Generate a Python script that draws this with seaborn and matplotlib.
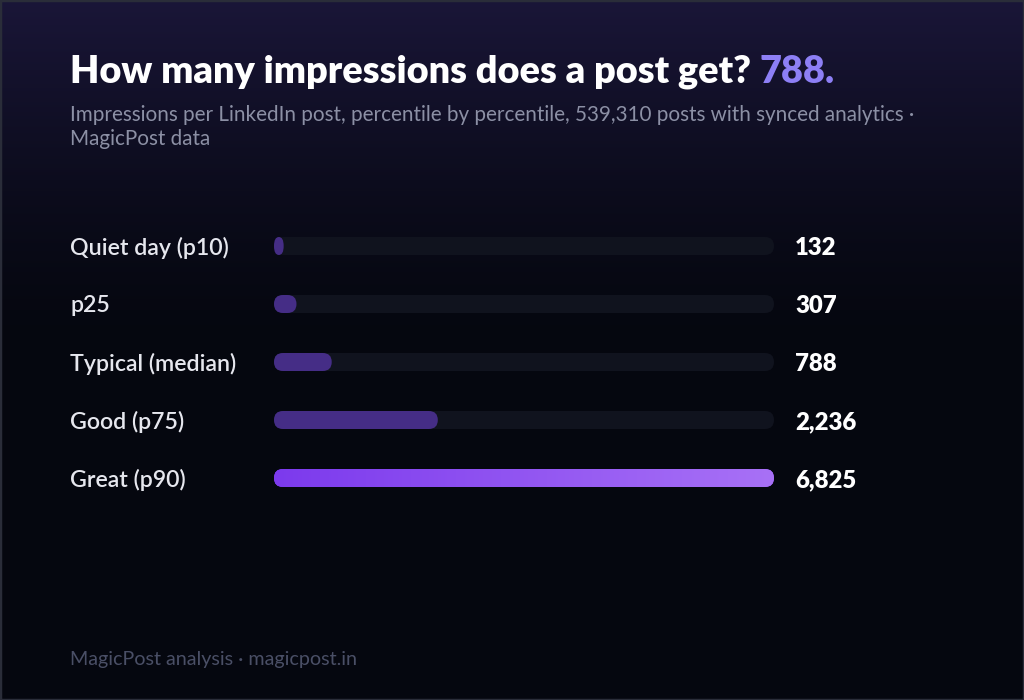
import numpy as np
import pandas as pd
import matplotlib
matplotlib.use("Agg")
from matplotlib import pyplot as plt
from matplotlib.patches import FancyBboxPatch, Rectangle
from matplotlib.colors import to_rgb
import seaborn as sns

# data
labels = ["Quiet day (p10)", "p25", "Typical (median)", "Good (p75)", "Great (p90)"]
impressions = [132, 307, 788, 2236, 6825]
value_labels = ["132", "307", "788", "2,236", "6,825"]

TITLE = "How many impressions does a post get? "
TITLE_HL = "788."
SUBTITLE = ("Impressions per LinkedIn post, percentile by percentile, 539,310 posts with synced analytics \u00b7\n"
            "MagicPost data")
FOOTER = "MagicPost analysis \u00b7 magicpost.in"

W, H = 1024, 700
TRACK = "#10131e"
DIM = "#452d86"
GRAD_L, GRAD_R = "#7c3aed", "#a871f6"

sns.set_theme(style="white")
plt.rcParams['font.family'] = ['Lato', 'DejaVu Sans']

df = pd.DataFrame({"label": labels, "value": impressions})
df["track"] = max(impressions)

fig = plt.figure(figsize=(W / 100, H / 100), dpi=100)

# background gradient: dark purple at the top fading to near black
bg = fig.add_axes([0, 0, 1, 1], zorder=-10)
top, bot = np.array(to_rgb("#1a1638")), np.array(to_rgb("#05070f"))
t = np.linspace(0, 1, H)
f = np.clip(1 - t / 0.5, 0, 1) ** 1.4
img = bot[None, :] + (top - bot)[None, :] * f[:, None]
bg.imshow(img[:, None, :], aspect="auto", extent=[0, 1, 0, 1])
bg.set_axis_off()
bg.add_patch(Rectangle((0, 0), 1, 1, transform=bg.transAxes, fill=False,
                       edgecolor="#2a2d39", linewidth=2.5))

# bar area
ax = fig.add_axes([274 / W, 1 - 507 / H, 500 / W, 290 / H])
ax.set_facecolor("none")
bar_h = 18 / 58
sns.barplot(data=df, y="label", x="track", color=TRACK, width=bar_h, ax=ax,
            orient="h", saturation=1)
sns.barplot(data=df, y="label", x="value", hue="label",
            palette=[DIM] * (len(labels) - 1) + [GRAD_L], width=bar_h, ax=ax,
            orient="h", saturation=1, legend=False, dodge=False)
xmax = max(impressions)
ax.set_xlim(0, xmax)
ax.set_ylim(len(labels) - 0.5, -0.5)

# turn the flat bars into rounded pills
sx = 500 / xmax
sy = 290 / len(labels)
r_px = 9
pills = []
for p in list(ax.patches):
    x, y, w, h = p.get_x(), p.get_y(), p.get_width(), p.get_height()
    fc = p.get_facecolor()
    z = p.get_zorder()
    p.remove()
    rx = min(r_px, w * sx / 2) / sx
    ry = r_px / sy
    fp = FancyBboxPatch((x, y), w, h, boxstyle=f"round,pad=0,rounding_size={rx}",
                        mutation_aspect=ry / rx, facecolor=fc, edgecolor="none",
                        zorder=z)
    ax.add_patch(fp)
    pills.append(fp)

# gradient fill on the top bar
great = pills[-1]
g = np.linspace(0, 1, 256)
gl, gr = np.array(to_rgb(GRAD_L)), np.array(to_rgb(GRAD_R))
gimg = gl[None, :] + (gr - gl)[None, :] * g[:, None]
x0, y0 = great.get_x(), great.get_y()
im = ax.imshow(gimg[None, :, :], extent=[x0, x0 + great.get_width(), y0 + great.get_height(), y0],
               aspect="auto", zorder=great.get_zorder() + 0.1)
im.set_clip_path(great)
ax.set_xlim(0, xmax)
ax.set_ylim(len(labels) - 0.5, -0.5)

# axes styling
sns.despine(ax=ax, left=True, bottom=True)
ax.set_xlabel("")
ax.set_ylabel("")
ax.set_xticks([])
ax.tick_params(axis="y", length=0, pad=(274 - 70) * 0.72, labelsize=16.7, labelcolor="#e6e7ee")
for lab in ax.get_yticklabels():
    lab.set_horizontalalignment("left")
    lab.set_fontweight("semibold")
    lab.set_verticalalignment("center_baseline")

for i, v in enumerate(value_labels):
    ax.text(1 + 21 / 500, i, v, transform=ax.get_yaxis_transform(), va="center_baseline",
            ha="left", fontsize=17.2, fontweight="heavy", color="white")

# titles
tt = fig.text(70 / W, 1 - 72 / H, TITLE, fontsize=27.3, fontweight="heavy",
              color="white", va="center", ha="left")
fig.canvas.draw()
bb = tt.get_window_extent()
fig.text(bb.x1 / W, 1 - 72 / H, TITLE_HL, fontsize=27.3, fontweight="heavy",
         color="#8d7ff5", va="center", ha="left")
fig.text(70 / W, 1 - 105 / H, SUBTITLE, fontsize=14.9, color="#8c90a5",
         va="top", ha="left", linespacing=1.28)
fig.text(70 / W, 1 - 660 / H, FOOTER, fontsize=14.2, color="#4a4f66",
         va="center", ha="left")

fig.savefig("out.png", dpi=100, facecolor=fig.get_facecolor())
